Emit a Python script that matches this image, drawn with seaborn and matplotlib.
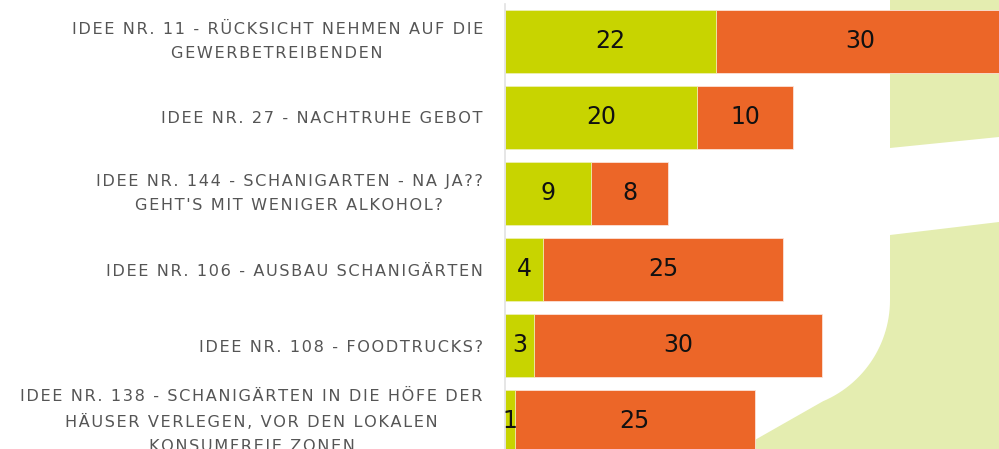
import numpy as np
import pandas as pd
import matplotlib
matplotlib.use('Agg')
import matplotlib.pyplot as plt
import matplotlib.transforms as mtransforms
from matplotlib.patches import Polygon
import seaborn as sns

# data
ideas = [
    'IDEE NR. 11 - RÜCKSICHT NEHMEN AUF DIE\nGEWERBETREIBENDEN',
    'IDEE NR. 27 - NACHTRUHE GEBOT',
    "IDEE NR. 144 - SCHANIGARTEN - NA JA??\nGEHT'S MIT WENIGER ALKOHOL?",
    'IDEE NR. 106 - AUSBAU SCHANIGÄRTEN',
    'IDEE NR. 108 - FOODTRUCKS?',
    'IDEE NR. 138 - SCHANIGÄRTEN IN DIE HÖFE DER\nHÄUSER VERLEGEN, VOR DEN LOKALEN\nKONSUMFREIE ZONEN',
]
green_votes = [22, 20, 9, 4, 3, 1]
orange_votes = [30, 10, 8, 25, 30, 25]

green = '#c8d400'
orange = '#ec6628'
bg_green = '#e4edb0'

df = pd.DataFrame({'idea': ideas, 'green': green_votes, 'orange': orange_votes})
df['total'] = df['green'] + df['orange']

sns.set_style('white')
plt.rcParams['font.family'] = ['DejaVu Sans']

W, H = 999, 449
fig = plt.figure(figsize=(W / 100, H / 100), dpi=100)
fig.patch.set_facecolor('white')


def px(points):
    return [(x / W, 1 - y / H) for x, y in points]


def spaced(label):
    # wide letter spacing like the original labels
    return '\n'.join('\u200a'.join(line) for line in label.split('\n'))


# decorative background shapes
top_shape = [(890, 0), (999, 0), (999, 137), (890, 148)]
fig.patches.append(Polygon(px(top_shape), closed=True, transform=fig.transFigure,
                           facecolor=bg_green, edgecolor='none', zorder=-5))
t = np.linspace(0, np.radians(67), 30)
arc = [(780 + 110 * np.cos(a), 300 + 110 * np.sin(a)) for a in t]
low_shape = [(890, 235), (999, 222), (999, 449), (739, 449)] + arc[::-1]
fig.patches.append(Polygon(px(low_shape), closed=True, transform=fig.transFigure,
                           facecolor=bg_green, edgecolor='none', zorder=-5))

ax = fig.add_axes([505 / W, 0, 494 / W, 1])
ax.set_facecolor('none')
ax.set_zorder(2)

bar_h = 63 / 76
sns.barplot(data=df, x='total', y='idea', orient='h', color=orange, width=bar_h,
            saturation=1, edgecolor='#fbe3d8', linewidth=0.6, ax=ax)
sns.barplot(data=df, x='green', y='idea', orient='h', color=green, width=bar_h,
            saturation=1, edgecolor='#eef3b8', linewidth=0.6, ax=ax)

for i, row in df.iterrows():
    ax.text(row['green'] / 2, i, str(row['green']), ha='center', va='center',
            fontsize=17, color='#111111')
    ax.text(row['green'] + row['orange'] / 2, i, str(row['orange']), ha='center',
            va='center', fontsize=17, color='#111111')

ax.set_xlim(0, 494 / 9.6)
ax.set_ylim((H - 41.5) / 76, -41.5 / 76)
ax.set_xlabel('')
ax.set_ylabel('')
ax.set_xticks([])
ax.tick_params(axis='y', length=0, pad=16)
ax.set_yticks(range(len(ideas)))
ax.set_yticklabels([spaced(s) for s in ideas], fontsize=11.6, color='#555555',
                   ha='right', multialignment='center', linespacing=1.75)

# multi-line labels sit a few pixels low, nudge them up
nudge = mtransforms.ScaledTranslation(0, 6 / 100, fig.dpi_scale_trans)
for lab in ax.get_yticklabels():
    if '\n' in lab.get_text():
        lab.set_transform(lab.get_transform() + nudge)

for s in ['top', 'right', 'bottom']:
    ax.spines[s].set_visible(False)
ax.spines['left'].set_color('#e2e2e2')
ax.spines['left'].set_linewidth(1.2)
ax.spines['left'].set_bounds(-0.49, (H - 41.5) / 76)

fig.savefig('out.png', dpi=100, facecolor='white')
